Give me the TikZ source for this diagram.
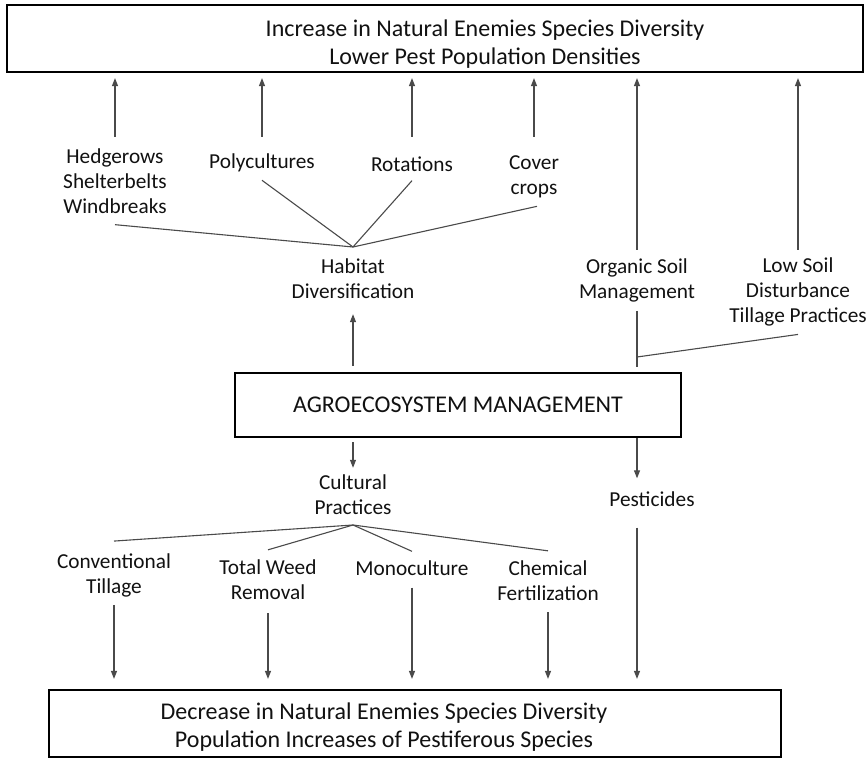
\documentclass[tikz,border=0pt]{standalone}
\usepackage{fontspec}
\setmainfont{Carlito}
\usetikzlibrary{arrows.meta,positioning,calc}
\definecolor{linegray}{HTML}{4A4A4A}
\definecolor{textblack}{HTML}{111111}
\tikzstyle{arrow} = [line width=1.1pt, draw=linegray, -{Triangle[length=8pt,width=6pt]}]
\tikzstyle{link} = [line width=1.1pt, draw=linegray]
\tikzstyle{box} = [draw=black, line width=2.2pt, inner sep=0pt]
\tikzstyle{lbl} = [align=center, inner sep=0pt, text=textblack, font=\fontsize{21.3}{25}\selectfont]
\tikzstyle{boxtext} = [align=center, inner sep=0pt, text=textblack, font=\fontsize{24}{28}\selectfont]

\begin{document}
\begin{tikzpicture}[x=1pt,y=-1pt]
\useasboundingbox (0,0) rectangle (867,759);

% boxes
\node[box, minimum width=856pt, minimum height=67pt] (top) at (435,38.5) {};
\node[boxtext] (topText) at (485,44) {Increase in Natural Enemies Species Diversity\\Lower Pest Population Densities};
\node[box, boxtext, minimum width=446pt, minimum height=64pt] (agro) at (458,405) {AGROECOSYSTEM MANAGEMENT};
\node[box, minimum width=732pt, minimum height=67pt] (bottom) at (415,723.5) {};
\node[boxtext] (bottomText) at (384,727) {Decrease in Natural Enemies Species Diversity\\Population Increases of Pestiferous Species};

% upper labels
\node[lbl] (hedge) at (115,181) {Hedgerows\\Shelterbelts\\Windbreaks};
\node[lbl] (poly) at (262,163) {Polycultures};
\node[lbl] (rot) at (412,164) {Rotations};
\node[lbl] (cover) at (534,177) {Cover\\crops};
\node[lbl] (habitat) at (353,279) {Habitat\\Diversification};
\node[lbl] (organic) at (637,280) {Organic Soil\\Management};
\node[lbl] (lowsoil) at (798,292) {Low Soil\\Disturbance\\Tillage Practices};

% lower labels
\node[lbl] (cultural) at (353,495) {Cultural\\Practices};
\node[lbl] (pest) at (652,499) {Pesticides};
\node[lbl] (conv) at (114,575) {Conventional\\Tillage};
\node[lbl] (weed) at (268,580) {Total Weed\\Removal};
\node[lbl] (mono) at (412,568) {Monoculture};
\node[lbl] (chem) at (548,581) {Chemical\\Fertilization};

\coordinate (upRow) at (0,137);
\coordinate (soilRow) at (0,250);
\coordinate (habFan) at (353,247);
\coordinate (culFan) at (353,525);
\coordinate (soilJoin) at (637,357);

% up to the top box
\foreach \n in {hedge,poly,rot,cover}
  \draw[arrow, shorten >=5pt] (\n |- upRow) -- (\n |- top.south);
\foreach \n in {organic,lowsoil}
  \draw[arrow, shorten >=5pt] (\n |- soilRow) -- (\n |- top.south);

% habitat diversification
\draw[link] (habFan) -- ([yshift=-11pt]hedge.south);
\draw[link] (habFan) -- ([yshift=-8pt]poly.south);
\draw[link] (habFan) -- ([yshift=-9pt]rot.south);
\draw[link] (habFan) -- ([xshift=3pt,yshift=-8pt]cover.south);
\draw[arrow, shorten <=6pt, shorten >=15pt] (habitat |- agro.north) -- (habitat.south);

% soil practices
\draw[link, shorten <=9pt, shorten >=5pt] (organic.south) -- (organic |- agro.north);
\draw[link] (soilJoin) -- ([yshift=-8pt]lowsoil.south);

% cultural practices
\draw[arrow, shorten <=4pt, shorten >=7pt] (cultural |- agro.south) -- (cultural.north);
\draw[link] (culFan) -- ([yshift=12pt]conv.north);
\draw[link] (culFan) -- ([yshift=10pt]weed.north);
\draw[link] (culFan) -- ([yshift=9pt]mono.north);
\draw[link] (culFan) -- ([yshift=10pt]chem.north);
\draw[arrow, shorten <=8pt, shorten >=10pt] (conv.south) -- (conv.south |- bottom.north);
\draw[arrow, shorten <=13pt, shorten >=10pt] (weed.south) -- (weed.south |- bottom.north);
\draw[arrow, shorten <=12pt, shorten >=10pt] (mono.south) -- (mono.south |- bottom.north);
\draw[arrow, shorten <=11pt, shorten >=10pt] (chem.south) -- (chem.south |- bottom.north);

% pesticides
\draw[arrow, shorten >=13pt] (organic |- agro.south) -- (organic |- pest.north);
\draw[arrow, shorten <=21pt, shorten >=10pt] (organic |- pest.south) -- (organic |- bottom.north);
\end{tikzpicture}
\end{document}
